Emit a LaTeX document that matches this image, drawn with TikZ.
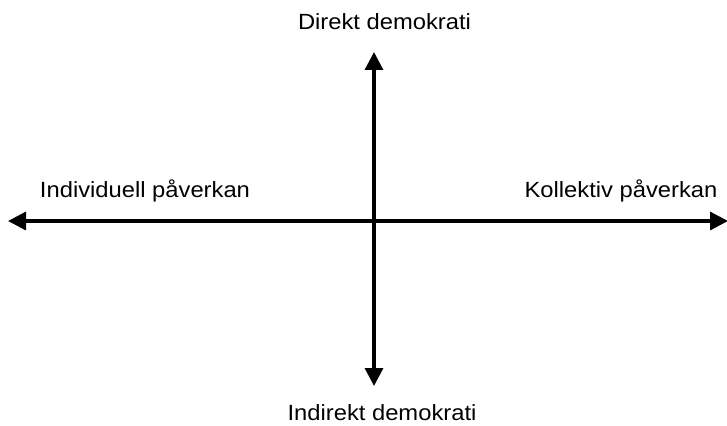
\documentclass[tikz,border=0pt]{standalone}
\usepackage{fontspec}
\setmainfont{Liberation Sans}[FakeStretch=1.08]
\usetikzlibrary{arrows.meta}
\tikzset{
  axis/.style={line width=3.2pt, {Triangle[length=18pt,width=18pt]}-{Triangle[length=18pt,width=18pt]}},
  lbl/.style={anchor=base, inner sep=0pt, font=\fontsize{22}{26}\selectfont}
}
\begin{document}
\begin{tikzpicture}[x=1pt,y=-1pt]
\useasboundingbox (0,0) rectangle (727,425);
\coordinate (L) at (8,221);
\coordinate (R) at (728,221);
\coordinate (T) at (374,52);
\coordinate (B) at (374,386);
\draw[axis] (L) -- (R);
\draw[axis] (T) -- (B);
\node[lbl] (top) at (384.5,30) {Direkt demokrati};
\node[lbl] (bot) at (382,420) {Indirekt demokrati};
\node[lbl] (left) at (145,197) {Individuell påverkan};
\node[lbl] (right) at (621,197) {Kollektiv påverkan};
\end{tikzpicture}
\end{document}
